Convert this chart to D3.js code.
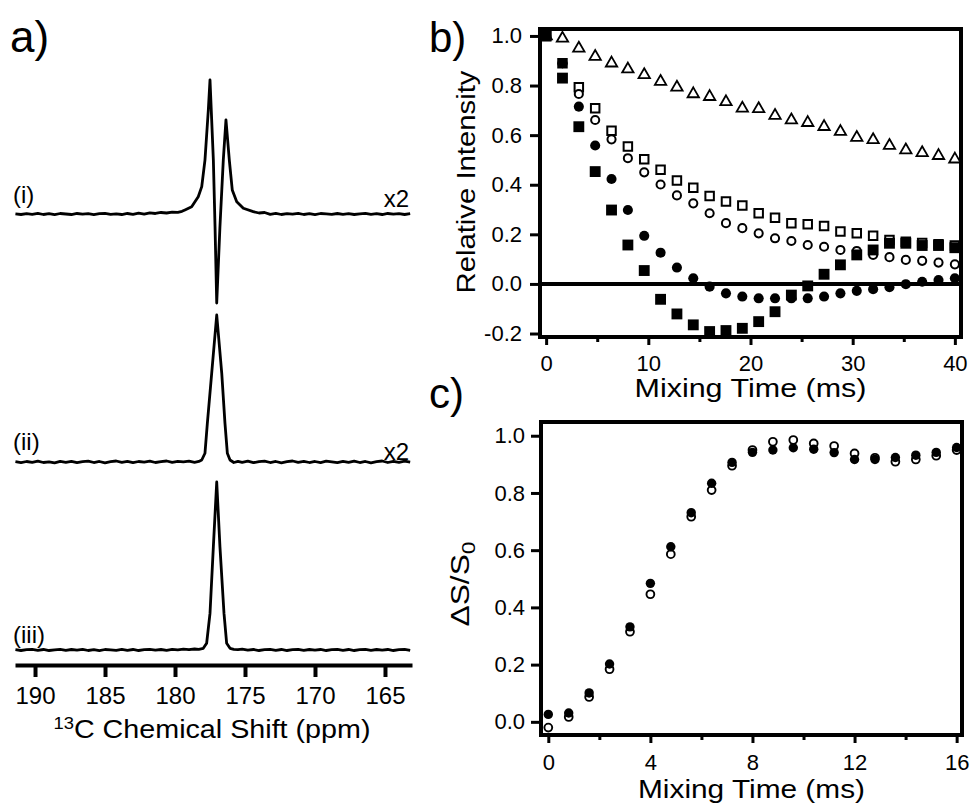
<!DOCTYPE html>
<html><head><meta charset="utf-8">
<script src="https://cdn.jsdelivr.net/npm/d3@7"></script>
<style>body{margin:0;background:#fff}svg{display:block}</style>
</head><body>
<svg id="chart" width="972" height="803"></svg>
<script>
// ---------- DATA ----------
const ppmTicks = [190, 185, 180, 175, 170, 165];
const spectrumI = [[191.4,0.001],[191.0,-0.003],[190.6,0.002],[190.2,-0.002],[189.8,0.004],[189.4,-0.003],[189.0,0.002],[188.6,-0.004],[188.2,0.003],[187.8,0.000],[187.4,-0.003],[187.0,0.003],[186.6,-0.001],[186.2,0.002],[185.8,-0.004],[185.4,0.002],[185.0,0.004],[184.6,-0.002],[184.2,0.001],[183.8,-0.003],[183.4,0.003],[183.0,-0.002],[182.6,0.005],[182.2,-0.001],[181.8,0.007],[181.4,0.003],[181.0,0.009],[180.6,0.006],[180.2,0.011],[179.8,0.010],[179.5,0.016],
 [179.29,0.024],[178.81,0.043],[178.34,0.103],[178.09,0.163],[177.86,0.321],[177.62,0.619],[177.5,0.798],[177.26,0.321],[177.14,-0.076],[177.02,-0.530],[176.79,-0.076],[176.55,0.321],[176.36,0.560],[176.12,0.321],[175.91,0.143],[175.59,0.073],[175.12,0.034],[174.41,0.014],
 [174.0,0.006],[173.6,0.009],[173.2,-0.002],[172.8,0.004],[172.4,-0.003],[172.0,0.002],[171.6,-0.001],[171.2,0.004],[170.8,-0.003],[170.4,0.002],[170.0,-0.004],[169.6,0.003],[169.2,0.001],[168.8,-0.002],[168.4,0.003],[168.0,-0.002],[167.6,0.002],[167.2,-0.003],[166.8,0.001],[166.4,0.004],[166.0,-0.002],[165.6,0.002],[165.2,-0.003],[164.8,0.003],[164.4,-0.001],[164.0,0.002],[163.6,-0.003],[163.2,0.002]];
const spectrumII = [[191.4,0.002],[191.0,-0.004],[190.6,0.003],[190.2,-0.002],[189.8,0.005],[189.4,-0.003],[189.0,0.001],[188.6,-0.005],[188.2,0.004],[187.8,-0.002],[187.4,0.004],[187.0,-0.004],[186.6,0.002],[186.2,0.005],[185.8,-0.003],[185.4,0.003],[185.0,-0.005],[184.6,0.002],[184.2,0.006],[183.8,-0.002],[183.4,0.004],[183.0,-0.004],[182.6,0.003],[182.2,-0.001],[181.8,0.005],[181.4,-0.003],[181.0,0.002],[180.6,0.006],[180.2,-0.002],[179.8,0.004],[179.4,0.001],[179.0,0.005],[178.6,-0.002],[178.3,0.003],
 [178.09,0.012],[177.86,0.052],[177.69,0.230],[177.38,0.528],[177.02,0.875],[176.66,0.528],[176.43,0.230],[176.26,0.052],[176.07,0.012],
 [175.8,-0.003],[175.5,0.004],[175.2,-0.002],[174.8,0.005],[174.4,-0.004],[174.0,0.002],[173.6,0.005],[173.2,-0.003],[172.8,0.003],[172.4,-0.005],[172.0,0.002],[171.6,0.006],[171.2,-0.002],[170.8,0.004],[170.4,-0.003],[170.0,0.003],[169.6,-0.004],[169.2,0.005],[168.8,0.001],[168.4,-0.004],[168.0,0.004],[167.6,-0.002],[167.2,0.005],[166.8,-0.003],[166.4,0.003],[166.0,-0.005],[165.6,0.002],[165.2,0.006],[164.8,-0.003],[164.4,0.004],[164.0,-0.002],[163.6,0.005],[163.2,-0.001]];
const spectrumIII = [[191.4,0.002],[191.0,-0.003],[190.6,0.002],[190.2,0.004],[189.8,-0.002],[189.4,0.003],[189.0,-0.003],[188.6,0.001],[188.2,0.004],[187.8,-0.002],[187.4,0.003],[187.0,-0.001],[186.6,0.004],[186.2,-0.003],[185.8,0.002],[185.4,-0.004],[185.0,0.003],[184.6,0.001],[184.2,-0.002],[183.8,0.004],[183.4,-0.002],[183.0,0.003],[182.6,-0.003],[182.2,0.002],[181.8,0.004],[181.4,-0.001],[181.0,0.003],[180.6,-0.002],[180.2,0.004],[179.8,0.001],[179.4,0.005],[179.0,0.002],[178.6,0.006],[178.3,0.004],
 [177.98,0.010],[177.74,0.040],[177.5,0.218],[177.26,0.615],[177.02,1.0],[176.79,0.615],[176.5,0.218],[176.31,0.040],[176.07,0.010],
 [175.8,0.004],[175.5,0.002],[175.2,0.005],[174.8,-0.001],[174.4,0.003],[174.0,-0.003],[173.6,0.002],[173.2,0.004],[172.8,-0.002],[172.4,0.003],[172.0,-0.003],[171.6,0.002],[171.2,0.004],[170.8,-0.002],[170.4,0.003],[170.0,-0.001],[169.6,0.003],[169.2,-0.003],[168.8,0.002],[168.4,0.004],[168.0,-0.002],[167.6,0.003],[167.2,-0.003],[166.8,0.002],[166.4,0.004],[166.0,-0.002],[165.6,0.003],[165.2,-0.001],[164.8,0.003],[164.4,-0.003],[164.0,0.002],[163.6,0.004],[163.2,-0.002]];
const spectrumLabels = ["(i)", "(ii)", "(iii)"];
const scaleLabels = ["x2", "x2", ""];
const panelLabels = ["a)", "b)", "c)"];

const mixTimeB = [0,1.6,3.2,4.8,6.4,8.0,9.6,11.2,12.8,14.4,16.0,17.6,19.2,20.8,22.4,24.0,25.6,27.2,28.8,30.4,32.0,33.6,35.2,36.8,38.4,40.0];
const bOpenTriangles = [1.0,0.99,0.95,0.917,0.89,0.866,0.843,0.816,0.793,0.766,0.755,0.734,0.708,0.706,0.679,0.661,0.65,0.634,0.614,0.59,0.581,0.558,0.54,0.529,0.517,0.503];
const bOpenSquares = [1.0,0.89,0.793,0.708,0.618,0.554,0.503,0.46,0.417,0.388,0.355,0.332,0.316,0.285,0.267,0.245,0.241,0.234,0.211,0.204,0.194,0.177,0.17,0.165,0.16,0.155];
const bOpenCircles = [1.0,0.89,0.766,0.661,0.583,0.507,0.45,0.401,0.357,0.325,0.285,0.245,0.225,0.204,0.184,0.173,0.157,0.15,0.137,0.133,0.117,0.108,0.097,0.093,0.086,0.079];
const bFilledCircles = [1.0,0.89,0.715,0.558,0.423,0.298,0.194,0.126,0.066,0.023,-0.011,-0.038,-0.051,-0.058,-0.058,-0.058,-0.058,-0.051,-0.038,-0.028,-0.021,-0.013,-0.001,0.009,0.016,0.023];
const bFilledSquares = [1.0,0.83,0.634,0.453,0.298,0.157,0.054,-0.062,-0.121,-0.165,-0.192,-0.188,-0.179,-0.152,-0.112,-0.045,-0.008,0.039,0.077,0.117,0.137,0.164,0.164,0.155,0.155,0.146];
const bXTicks = [0, 10, 20, 30, 40];
const bXMinorTicks = [5, 15, 25, 35];
const bYTicks = [-0.2, 0.0, 0.2, 0.4, 0.6, 0.8, 1.0];

const mixTimeC = [0,0.8,1.6,2.4,3.2,4.0,4.8,5.6,6.4,7.2,8.0,8.8,9.6,10.4,11.2,12.0,12.8,13.6,14.4,15.2,16.0];
const cFilled = [0.026,0.031,0.101,0.202,0.332,0.484,0.612,0.731,0.834,0.907,0.942,0.95,0.958,0.953,0.941,0.917,0.917,0.924,0.932,0.942,0.959];
const cOpen = [-0.02,0.017,0.087,0.184,0.315,0.446,0.586,0.717,0.81,0.895,0.95,0.979,0.985,0.973,0.964,0.938,0.923,0.909,0.917,0.93,0.95];
const cXTicks = [0, 4, 8, 12, 16];
const cXMinorTicks = [2, 6, 10, 14];
const cYTicks = [0.0, 0.2, 0.4, 0.6, 0.8, 1.0];

// ---------- DRAWING ----------
const FONT = '"Liberation Sans", Arial, Helvetica, sans-serif';
const svg = d3.select("#chart");
svg.append("rect").attr("width", 972).attr("height", 803).attr("fill", "#fff");

function txt(x, y, s, size, anchor) {
  return svg.append("text").attr("x", x).attr("y", y).attr("font-family", FONT)
    .attr("font-size", size).attr("text-anchor", anchor || "start").attr("fill", "#000").text(s);
}
function styleAxis(g, fs, sw) {
  g.attr("font-family", FONT).attr("font-size", fs);
  g.select(".domain").remove();
  g.selectAll(".tick line").attr("stroke", "#000").attr("stroke-width", sw);
  g.selectAll(".tick text").attr("fill", "#000");
}

// Panel labels
const panelLabelPos = [[10, 52, 44], [429, 52, 42], [429, 408, 42]];
panelLabels.forEach((l, i) => txt(panelLabelPos[i][0], panelLabelPos[i][1], l, panelLabelPos[i][2]));

// ---- Panel a ----
const xA = d3.scaleLinear().domain([191.43, 163.07]).range([15, 412]);
const yA = d3.scaleLinear().domain([0, 1]).range([0, -168]);
const traceBaselines = [214, 462, 650];
const lineA = d3.line().x(d => xA(d[0])).y(d => yA(d[1]));
[spectrumI, spectrumII, spectrumIII].forEach((s, i) => {
  svg.append("path").attr("transform", `translate(0,${traceBaselines[i]})`)
    .attr("d", lineA(s)).attr("fill", "none").attr("stroke", "#000")
    .attr("stroke-width", 2.8).attr("stroke-linejoin", "round");
});
const labelYs = [203, 450, 643];
const x2Ys = [207, 460, 0];
spectrumLabels.forEach((l, i) => txt(13, labelYs[i], l, 24));
scaleLabels.forEach((l, i) => { if (l) txt(409, x2Ys[i], l, 24, "end"); });

const axA = svg.append("g").attr("transform", "translate(0,665)")
  .call(d3.axisBottom(xA).tickValues(ppmTicks).tickSize(12).tickSizeOuter(0).tickPadding(10));
axA.attr("font-family", FONT).attr("font-size", 24);
axA.select(".domain").attr("stroke", "#000").attr("stroke-width", 4);
axA.selectAll(".tick line").attr("stroke", "#000").attr("stroke-width", 4);
axA.selectAll(".tick text").attr("fill", "#000");

const tA = svg.append("text").attr("x", 212).attr("y", 738).attr("text-anchor", "middle")
  .attr("font-family", FONT).attr("textLength", 317).attr("lengthAdjust", "spacingAndGlyphs");
tA.append("tspan").attr("font-size", 16).attr("dy", -9).text("13");
tA.append("tspan").attr("font-size", 25).attr("dy", 9).text("C Chemical Shift (ppm)");

// ---- Panel b ----
const B = {l: 540, r: 961, t: 29, b: 337};
const xB = d3.scaleLinear().domain([-0.6, 40.6]).range([B.l, B.r]);
const yB = d3.scaleLinear().domain([-0.214, 1.028]).range([B.b, B.t]);

const bx = svg.append("g").attr("transform", `translate(0,${B.b})`)
  .call(d3.axisBottom(xB).tickValues(bXTicks).tickSize(8).tickPadding(10));
styleAxis(bx, 22, 3);
const bxm = svg.append("g").attr("transform", `translate(0,${B.b})`)
  .call(d3.axisBottom(xB).tickValues(bXMinorTicks).tickSize(5).tickFormat(""));
styleAxis(bxm, 22, 3);
const by = svg.append("g").attr("transform", `translate(${B.l},0)`)
  .call(d3.axisLeft(yB).tickValues(bYTicks).tickSize(10).tickPadding(8).tickFormat(d => d.toFixed(1)));
styleAxis(by, 22, 3);

svg.append("line").attr("x1", B.l).attr("x2", B.r).attr("y1", yB(0)).attr("y2", yB(0))
  .attr("stroke", "#000").attr("stroke-width", 4);

function drawB(vals, type, size, filled, sw) {
  svg.append("g").selectAll("path").data(vals).join("path")
    .attr("transform", (d, i) => `translate(${xB(mixTimeB[i])},${yB(d)})`)
    .attr("d", d3.symbol().type(type).size(size)())
    .attr("fill", filled ? "#000" : "#fff").attr("stroke", "#000").attr("stroke-width", sw);
}
drawB(bOpenTriangles, d3.symbolTriangle, 56, false, 1.8);
drawB(bOpenSquares, d3.symbolSquare, 72, false, 2);
drawB(bOpenCircles, d3.symbolCircle, 52, false, 2);
drawB(bFilledCircles, d3.symbolCircle, 80, true, 0);
drawB(bFilledSquares, d3.symbolSquare, 118, true, 0);

svg.append("rect").attr("x", B.l).attr("y", B.t).attr("width", B.r - B.l).attr("height", B.b - B.t)
  .attr("fill", "none").attr("stroke", "#000").attr("stroke-width", 4);

svg.append("text").attr("x", (B.l + B.r) / 2).attr("y", 397).attr("text-anchor", "middle")
  .attr("font-family", FONT).attr("font-size", 25).attr("textLength", 232)
  .attr("lengthAdjust", "spacingAndGlyphs").text("Mixing Time (ms)");
svg.append("text").attr("transform", "translate(475,182) rotate(-90)").attr("text-anchor", "middle")
  .attr("font-family", FONT).attr("font-size", 25).attr("textLength", 223)
  .attr("lengthAdjust", "spacingAndGlyphs").text("Relative Intensity");

// ---- Panel c ----
const C = {l: 541, r: 962, t: 422, b: 735};
const xC = d3.scaleLinear().domain([-0.286, 16.21]).range([C.l, C.r]);
const yC = d3.scaleLinear().domain([-0.046, 1.048]).range([C.b, C.t]);

const cx = svg.append("g").attr("transform", `translate(0,${C.b})`)
  .call(d3.axisBottom(xC).tickValues(cXTicks).tickSize(8).tickPadding(11));
styleAxis(cx, 22, 3);
const cxm = svg.append("g").attr("transform", `translate(0,${C.b})`)
  .call(d3.axisBottom(xC).tickValues(cXMinorTicks).tickSize(5).tickFormat(""));
styleAxis(cxm, 22, 3);
const cy = svg.append("g").attr("transform", `translate(${C.l},0)`)
  .call(d3.axisLeft(yC).tickValues(cYTicks).tickSize(10).tickPadding(6).tickFormat(d => d.toFixed(1)));
styleAxis(cy, 22, 3);

svg.append("g").selectAll("circle").data(cOpen).join("circle")
  .attr("cx", (d, i) => xC(mixTimeC[i])).attr("cy", d => yC(d)).attr("r", 3.9)
  .attr("fill", "#fff").attr("stroke", "#000").attr("stroke-width", 1.9);
svg.append("g").selectAll("circle").data(cFilled).join("circle")
  .attr("cx", (d, i) => xC(mixTimeC[i])).attr("cy", d => yC(d)).attr("r", 4.7)
  .attr("fill", "#000");

svg.append("rect").attr("x", C.l).attr("y", C.t).attr("width", C.r - C.l).attr("height", C.b - C.t)
  .attr("fill", "none").attr("stroke", "#000").attr("stroke-width", 4);

svg.append("text").attr("x", (C.l + C.r) / 2).attr("y", 798).attr("text-anchor", "middle")
  .attr("font-family", FONT).attr("font-size", 25).attr("textLength", 227)
  .attr("lengthAdjust", "spacingAndGlyphs").text("Mixing Time (ms)");
const tC = svg.append("text").attr("transform", "translate(469,584) rotate(-90)").attr("text-anchor", "middle")
  .attr("font-family", FONT).attr("font-size", 25).attr("textLength", 85).attr("lengthAdjust", "spacingAndGlyphs");
tC.append("tspan").text("ΔS/S");
tC.append("tspan").attr("font-size", 18).attr("dy", 6).text("0");
</script>
</body></html>
